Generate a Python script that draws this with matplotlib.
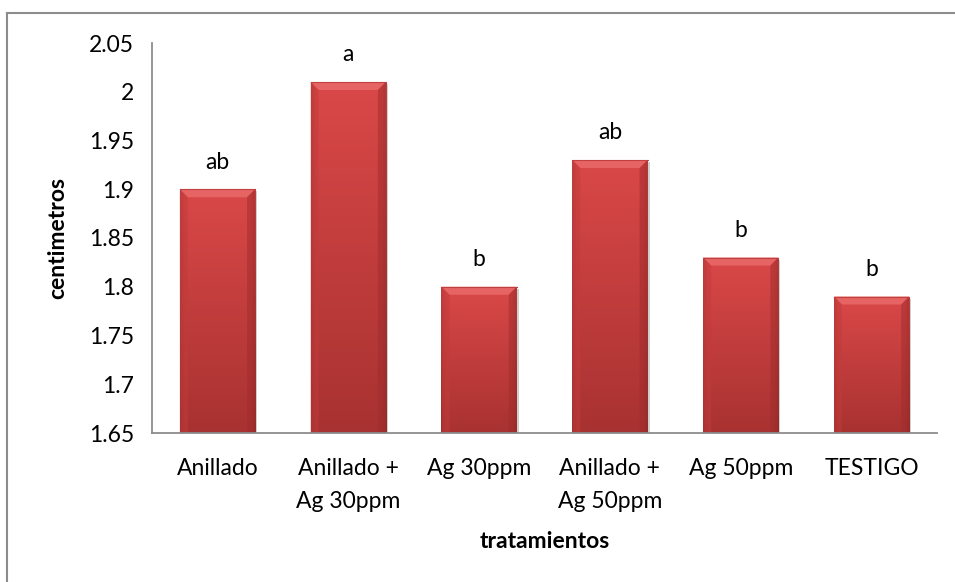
import matplotlib
matplotlib.use("Agg")
import matplotlib.pyplot as plt
import numpy as np
from matplotlib.patches import Rectangle, Polygon
from matplotlib.colors import to_rgb

categories = ["Anillado", "Anillado +\nAg 30ppm", "Ag 30ppm", "Anillado +\nAg 50ppm", "Ag 50ppm", "TESTIGO"]
values = [1.90, 2.01, 1.80, 1.93, 1.83, 1.79]
letters = ["ab", "a", "b", "ab", "b", "b"]
yticks = [1.65, 1.7, 1.75, 1.8, 1.85, 1.9, 1.95, 2.0, 2.05]
ytick_labels = ["1.65", "1.7", "1.75", "1.8", "1.85", "1.9", "1.95", "2", "2.05"]

plt.rcParams['font.family'] = ['Lato', 'DejaVu Sans']
FS = 16.5

W, H = 955, 582
fig = plt.figure(figsize=(W / 100, H / 100), dpi=100)
ax = fig.add_axes([152 / W, 1 - 433 / H, (937 - 152) / W, (433 - 43) / H])

ymin, ymax = 1.65, 2.05
ax.set_ylim(ymin, ymax)
ax.set_xlim(-0.5, len(categories) - 0.5)

bw = 0.575
x = np.arange(len(categories))
top_c = np.array(to_rgb("#da4848"))
bot_c = np.array(to_rgb("#a83231"))
px_x = (len(categories)) / (937 - 152)
px_y = (ymax - ymin) / (433 - 43)
bev_x = 8 * px_x
bev_y = 8 * px_y

for xi, v in zip(x, values):
    x0, x1 = xi - bw / 2, xi + bw / 2
    sh = Rectangle((x0 + 2 * px_x, ymin), bw, v - ymin - 2 * px_y, facecolor="#b0b0b0",
                   edgecolor="none", alpha=0.6, zorder=1)
    ax.add_patch(sh)
    rect = Rectangle((x0, ymin), bw, v - ymin, facecolor="none", edgecolor="none", zorder=2)
    ax.add_patch(rect)
    n = 200
    t = np.linspace(0, 1, n)[:, None]
    grad = top_c[None, :] * (1 - t) + bot_c[None, :] * t
    m = 60
    u = np.linspace(0, 1, m)
    edge = 1 - 0.12 * (np.clip(1 - u / 0.06, 0, 1) + np.clip((u - 0.94) / 0.06, 0, 1))
    img = grad[:, None, :] * edge[None, :, None]
    im = ax.imshow(np.clip(img, 0, 1), extent=(x0, x1, ymin, v), aspect="auto",
                   origin="upper", zorder=2, interpolation="bilinear")
    im.set_clip_path(rect)
    ax.add_patch(Polygon([(x0, v), (x1, v), (x1 - bev_x, v - bev_y), (x0 + bev_x, v - bev_y)],
                         closed=True, facecolor="#e66464", edgecolor="none", zorder=3))
    ax.add_patch(Polygon([(x0, v), (x0 + bev_x, v - bev_y), (x0 + bev_x, ymin), (x0, ymin)],
                         closed=True, facecolor="#c23b3b", edgecolor="none", zorder=3, alpha=0.5))
    ax.add_patch(Polygon([(x1, v), (x1 - bev_x, v - bev_y), (x1 - bev_x, ymin), (x1, ymin)],
                         closed=True, facecolor="#a02c2c", edgecolor="none", zorder=3, alpha=0.5))
    ax.plot([x0, x1], [v, v], color="#c04040", lw=0.8, zorder=4)

for xi, v, lab in zip(x, values, letters):
    ax.annotate(lab, (xi, v), xytext=(0, 19.5), textcoords="offset points",
                ha="center", va="center", fontsize=FS, color="black")

ax.set_yticks(yticks)
ax.set_yticklabels(ytick_labels, fontsize=FS)
ax.set_xticks(x)
ax.set_xticklabels(categories, fontsize=FS, linespacing=1.7)
ax.tick_params(axis="both", length=0)
ax.tick_params(axis="y", pad=13)
ax.tick_params(axis="x", pad=18)
for s in ["top", "right"]:
    ax.spines[s].set_visible(False)
for s in ["left", "bottom"]:
    ax.spines[s].set_color("#8c8c8c")
    ax.spines[s].set_linewidth(1.3)
    ax.spines[s].set_zorder(5)

fig.text(58 / W, 1 - 238 / H, "centimetros", rotation=90, ha="center", va="center",
         fontsize=FS, fontweight="bold")
fig.text(544.5 / W, 1 - 542 / H, "tratamientos", ha="center", va="center",
         fontsize=FS, fontweight="bold")

fig.add_artist(plt.Line2D([6.5 / W, 6.5 / W], [0, 1 - 13 / H], transform=fig.transFigure,
                          color="#8c8c8c", lw=1.5))
fig.add_artist(plt.Line2D([6.5 / W, 1], [1 - 13 / H, 1 - 13 / H], transform=fig.transFigure,
                          color="#8c8c8c", lw=1.5))

fig.savefig("out.png", dpi=100)
